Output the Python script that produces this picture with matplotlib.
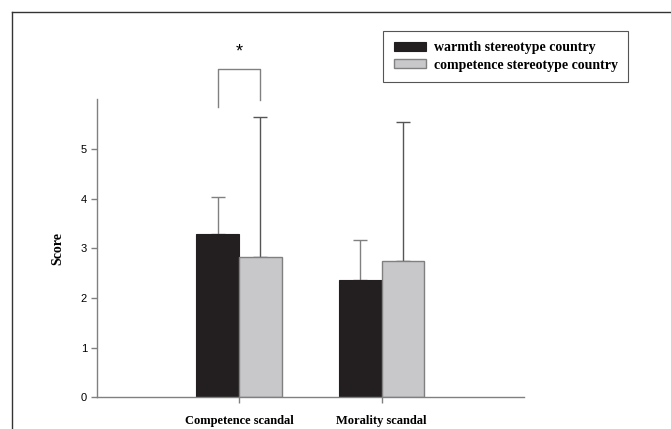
import matplotlib.pyplot as plt
import numpy as np
from matplotlib.lines import Line2D

# data
scandals = ['Competence scandal', 'Morality scandal']
warmth_means = [3.28, 2.36]
warmth_err = [0.76, 0.80]
competence_means = [2.82, 2.75]
competence_err = [2.83, 2.79]
series_names = ['warmth stereotype country', 'competence stereotype country']
y_ticks = [0, 1, 2, 3, 4, 5]
# significance bracket (left foot, top, right foot) and its label
sig_bracket = [5.84, 6.62, 5.99]
sig_label = '*'

serif = 'Liberation Serif'
sans = 'Liberation Sans'
axis_gray = '#808080'

fig = plt.figure(figsize=(6.71, 4.29), dpi=100)
ax = fig.add_axes([0.1441, 0.0739, 0.6367, 0.6946])

x = np.arange(1, len(scandals) + 1)
w = 0.3
ax.bar(x - w / 2, warmth_means, w, color='#231f20', edgecolor='#231f20',
       linewidth=0.8, label=series_names[0], zorder=2)
ax.bar(x + w / 2, competence_means, w, color='#c8c8ca', edgecolor=axis_gray,
       linewidth=1.0, label=series_names[1], zorder=2)

# one-sided (upper) error bars
ax.errorbar(x - w / 2, warmth_means, yerr=[np.zeros(len(x)), warmth_err],
            fmt='none', ecolor=axis_gray, elinewidth=1.0, capsize=5, capthick=1.0, zorder=1)
ax.errorbar(x + w / 2, competence_means, yerr=[np.zeros(len(x)), competence_err],
            fmt='none', ecolor='#555555', elinewidth=1.0, capsize=5, capthick=1.0, zorder=1)

# significance bracket over competence scandal
bx0, bx1 = x[0] - w / 2, x[0] + w / 2
ax.plot([bx0, bx0, bx1, bx1], [sig_bracket[0], sig_bracket[1], sig_bracket[1], sig_bracket[2]],
        color=axis_gray, linewidth=1.0, clip_on=False)
ax.text(x[0], sig_bracket[1] + 0.17, sig_label, ha='center', va='bottom',
        fontsize=13, family=sans, clip_on=False)

ax.set_xlim(0, 3)
ax.set_ylim(0, 6)
ax.set_yticks(y_ticks)
ax.set_yticklabels([str(t) for t in y_ticks], family=sans, fontsize=8)
ax.set_xticks(x)
ax.set_xticklabels(scandals, family=serif, fontweight='bold', fontsize=9)
ax.tick_params(axis='x', length=4, width=1, color=axis_gray, pad=9)
ax.tick_params(axis='y', length=4, width=1, color=axis_gray, pad=3)
ax.set_ylabel('Score', family=serif, fontweight='bold', fontsize=10, labelpad=12)

for side in ['top', 'right']:
    ax.spines[side].set_visible(False)
for side in ['left', 'bottom']:
    ax.spines[side].set_color(axis_gray)
    ax.spines[side].set_linewidth(1.0)

leg = ax.legend(loc='upper left', bbox_to_anchor=(0.571, 0.9277), bbox_transform=fig.transFigure,
                prop={'family': serif, 'weight': 'bold', 'size': 10}, frameon=True,
                fancybox=False, edgecolor='#555555', framealpha=1, borderaxespad=0,
                handlelength=2.3, handleheight=0.65, handletextpad=0.6, labelspacing=0.3,
                borderpad=0.75)
leg.get_frame().set_linewidth(0.8)

# outer frame lines (top and left) of the original figure panel
fig.add_artist(Line2D([12 / 671, 1], [1 - 12 / 429, 1 - 12 / 429], color='#333333', linewidth=1.0))
fig.add_artist(Line2D([12 / 671, 12 / 671], [0, 1 - 12 / 429], color='#333333', linewidth=1.0))

fig.savefig('out.png', dpi=100)
